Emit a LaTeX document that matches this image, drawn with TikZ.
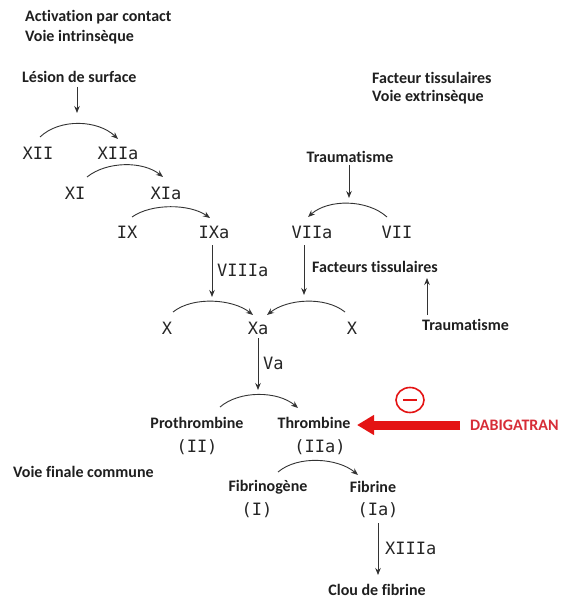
\documentclass[tikz,border=0pt]{standalone}
\usepackage{fontspec}
\setmainfont{Carlito}[Ligatures=NoCommon]
\newfontfamily\numfont{DejaVu Sans Mono}
\usetikzlibrary{arrows.meta,shapes.geometric}
\definecolor{dabred}{RGB}{228,20,20}
\definecolor{dabtext}{RGB}{215,45,55}
\tikzset{
  lbl/.style={font=\fontsize{16}{18}\selectfont\bfseries, inner sep=0pt, text=black!88},
  num/.style={font=\fontsize{17}{19}\selectfont\numfont, inner sep=0pt, text=black!85},
  arr/.style={-{Stealth[length=7pt,width=5.5pt]}, line width=0.9pt, black!80},
  arc/.style={-{Stealth[length=7pt,width=5.5pt]}, line width=0.9pt, black!80},
}
\begin{document}
\begin{tikzpicture}[x=1pt,y=-1pt]
\useasboundingbox[fill=white] (0,0) rectangle (560,601);
% headings
\node[lbl, anchor=west] (act) at (25,17) {Activation par contact};
\node[lbl, anchor=west] (voi) at (25,37) {Voie intrinsèque};
\node[lbl, anchor=west] (les) at (22,77) {Lésion de surface};
\node[lbl, anchor=west] (fac) at (372,78) {Facteur tissulaires};
\node[lbl, anchor=west] (vex) at (372,97) {Voie extrinsèque};
\node[lbl] (tr1) at (350,157) {Traumatisme};
\node[lbl, anchor=west] (ft) at (312,267) {Facteurs tissulaires};
\node[lbl, anchor=west] (tr2) at (422,325) {Traumatisme};
\node[lbl] (pro) at (197,423) {Prothrombine};
\node[lbl] (thr) at (314,423) {Thrombine};
\node[lbl, anchor=west] (vfc) at (13,472) {Voie finale commune};
\node[lbl] (fib) at (268,487) {Fibrinogène};
\node[lbl] (fibr) at (373,487) {Fibrine};
\node[lbl] (clou) at (377,590) {Clou de fibrine};
\node[lbl, anchor=west, text=dabtext] (dab) at (470,425) {DABIGATRAN};
% numerals
\node[num] (XII) at (38,153) {XII};
\node[num] (XIIa) at (118,153) {XIIa};
\node[num] (XI) at (75,193) {XI};
\node[num] (XIa) at (166,193) {XIa};
\node[num] (IX) at (127,232) {IX};
\node[num] (IXa) at (214,232) {IXa};
\node[num] (VIIa) at (312,232) {VIIa};
\node[num] (VII) at (397,232) {VII};
\node[num, anchor=west] (VIIIa) at (217,270) {VIIIa};
\node[num] (X1) at (167,328) {X};
\node[num] (Xa) at (258,328) {Xa};
\node[num] (X2) at (352,328) {X};
\node[num, anchor=west] (Va) at (263,363) {Va};
\node[num] (II) at (197,447) {(II)};
\node[num] (IIa) at (320,447) {(IIa)};
\node[num] (I) at (257,510) {(I)};
\node[num] (Ia) at (378,510) {(Ia)};
\node[num, anchor=west] (XIIIa) at (385,548) {XIIIa};
% vertical arrows
\draw[arr] ([shift={(55,10)}]les.west) -- ([shift={(55,36)}]les.west);
\draw[arr] ([shift={(-1,8)}]tr1.center) -- ([shift={(-1,41)}]tr1.center);
\draw[arr] ([shift={(-2,13)}]IXa.center) -- ([shift={(-2,65)}]IXa.center);
\draw[arr] ([shift={(-8,13)}]VIIa.center) -- ([shift={(-8,63)}]VIIa.center);
\draw[arr] ([shift={(5,-10)}]tr2.west) -- ([shift={(5,-47)}]tr2.west);
\draw[arr] ([shift={(0,10)}]Xa.center) -- ([shift={(0,62)}]Xa.center);
\draw[arr] ([shift={(0,13)}]Ia.center) -- ([shift={(0,65)}]Ia.center);
% arcs
\draw[arc] ([shift={(2,-16)}]XII.center) .. controls +(20,-19) and +(-20,-19) .. ([shift={(0,-14)}]XIIa.center);
\draw[arc] ([shift={(12,-16)}]XI.center) .. controls +(20,-16) and +(-20,-16) .. ([shift={(-3,-16)}]XIa.center);
\draw[arc] ([shift={(5,-15)}]IX.center) .. controls +(20,-14) and +(-20,-14) .. ([shift={(-4,-14)}]IXa.center);
\draw[arc] ([shift={(-10,-15)}]VII.center) .. controls +(-20,-18) and +(20,-18) .. ([shift={(-4,-15)}]VIIa.center);
\draw[arc] ([shift={(6,-16)}]X1.center) .. controls +(20,-16) and +(-20,-16) .. ([shift={(-5,-13)}]Xa.center);
\draw[arc] ([shift={(-7,-16)}]X2.center) .. controls +(-20,-16) and +(20,-16) .. ([shift={(9,-13)}]Xa.center);
\draw[arc] ([shift={(23,-16)}]pro.center) .. controls +(20,-17) and +(-20,-17) .. ([shift={(-16,-15)}]thr.center);
\draw[arc] ([shift={(10,-15)}]fib.center) .. controls +(20,-17) and +(-20,-17) .. ([shift={(-15,-12)}]fibr.center);
% red inhibition arrow
\coordinate (tipD) at ([shift={(43,2)}]thr.center);
\draw[dabred, line width=9pt, -{Triangle[length=17pt,width=19pt]}] ([shift={(-10,0)}]dab.west) -- (tipD);
\node[draw=dabred, line width=1.6pt, ellipse, minimum width=28pt, minimum height=25pt, inner sep=0pt] (minus) at (410,400) {};
\draw[dabred, line width=1.6pt] ([xshift=-7pt]minus.center) -- ([xshift=7pt]minus.center);
\end{tikzpicture}
\end{document}
